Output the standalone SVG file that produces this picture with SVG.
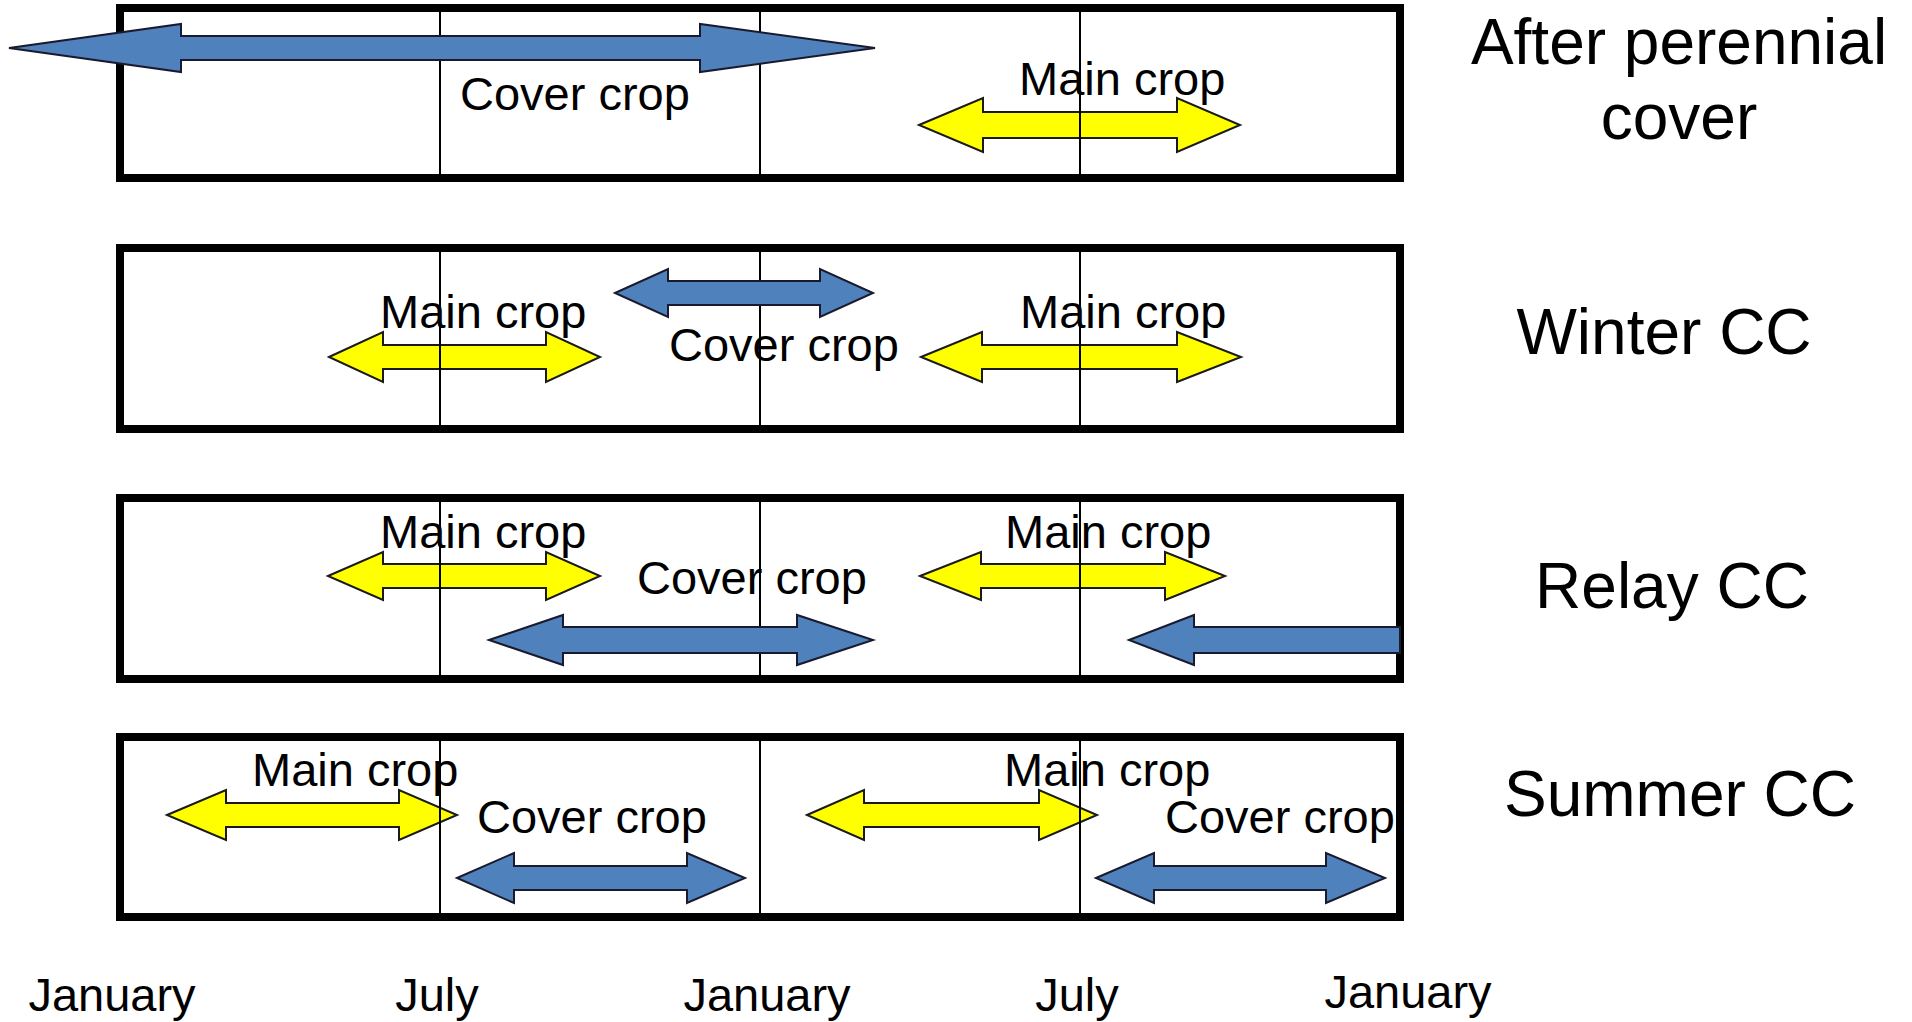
<svg xmlns="http://www.w3.org/2000/svg" width="1912" height="1022" viewBox="0 0 1912 1022">
<style>
.box{fill:#fff;stroke:#000;stroke-width:8}
.div{stroke:#000;stroke-width:2}
.blue{fill:#4F81BD;stroke:#1a1a2e;stroke-width:2;stroke-linejoin:miter}
.yel{fill:#FFFF00;stroke:#1a1a1a;stroke-width:2;stroke-linejoin:miter}
.lbl{font-family:"Liberation Sans",Arial,sans-serif;font-size:47px;fill:#000}
.row{font-family:"Liberation Sans",Arial,sans-serif;font-size:64px;fill:#000;text-anchor:middle}
.mon{font-family:"Liberation Sans",Arial,sans-serif;font-size:47px;fill:#000;text-anchor:middle}
</style>
<rect width="1912" height="1022" fill="#fff"/>

<g id="row-after-perennial">
  <rect class="box" x="120" y="8" width="1280" height="170"/>
  <polygon class="yel" points="919,125 983,98 983,112 1177,112 1177,98 1240,125 1177,152 1177,138 983,138 983,152"/>
  <line class="div" x1="440" y1="12" x2="440" y2="174"/>
  <line class="div" x1="760" y1="12" x2="760" y2="174"/>
  <line class="div" x1="1080" y1="12" x2="1080" y2="174"/>
  <polygon class="blue" points="9,48 181,24 181,36 700,36 700,24 875,48 700,72 700,60 181,60 181,72"/>
  <text class="lbl" x="460" y="110">Cover crop</text>
  <text class="lbl" x="1019" y="95">Main crop</text>
  <text class="row" x="1679" y="64">After perennial</text>
  <text class="row" x="1679" y="139">cover</text>
</g>

<g id="row-winter-cc">
  <rect class="box" x="120" y="248" width="1280" height="181"/>
  <polygon class="yel" points="329,357 383,332 383,345 546,345 546,332 600,357 546,382 546,369 383,369 383,382"/>
  <polygon class="yel" points="921,357 982,332 982,345 1177,345 1177,332 1241,357 1177,382 1177,369 982,369 982,382"/>
  <line class="div" x1="440" y1="252" x2="440" y2="425"/>
  <line class="div" x1="760" y1="252" x2="760" y2="425"/>
  <line class="div" x1="1080" y1="252" x2="1080" y2="425"/>
  <polygon class="blue" points="615,293 668,269 668,281 820,281 820,269 873,293 820,317 820,305 668,305 668,317"/>
  <text class="lbl" x="380" y="328">Main crop</text>
  <text class="lbl" x="669" y="361">Cover crop</text>
  <text class="lbl" x="1020" y="328">Main crop</text>
  <text class="row" x="1664" y="354">Winter CC</text>
</g>

<g id="row-relay-cc">
  <rect class="box" x="120" y="498" width="1280" height="181"/>
  <polygon class="yel" points="328,576 383,552 383,564 546,564 546,552 600,576 546,600 546,588 383,588 383,600"/>
  <polygon class="yel" points="920,576 981,552 981,564 1165,564 1165,552 1225,576 1165,600 1165,588 981,588 981,600"/>
  <line class="div" x1="440" y1="502" x2="440" y2="675"/>
  <line class="div" x1="760" y1="502" x2="760" y2="675"/>
  <line class="div" x1="1080" y1="502" x2="1080" y2="675"/>
  <polygon class="blue" points="489,640 563,615 563,627 797,627 797,615 873,640 797,665 797,653 563,653 563,665"/>
  <polygon class="blue" points="1129,640 1194,615 1194,627 1400,627 1400,653 1194,653 1194,665"/>
  <text class="lbl" x="380" y="548">Main crop</text>
  <text class="lbl" x="637" y="594">Cover crop</text>
  <text class="lbl" x="1005" y="548">Main crop</text>
  <text class="row" x="1672" y="608">Relay CC</text>
</g>

<g id="row-summer-cc">
  <rect class="box" x="120" y="737" width="1280" height="180"/>
  <polygon class="yel" points="167,815 226,790 226,803 399,803 399,790 457,815 399,840 399,827 226,827 226,840"/>
  <polygon class="yel" points="807,815 864,790 864,803 1039,803 1039,790 1097,815 1039,840 1039,827 864,827 864,840"/>
  <line class="div" x1="440" y1="741" x2="440" y2="913"/>
  <line class="div" x1="760" y1="741" x2="760" y2="913"/>
  <line class="div" x1="1080" y1="741" x2="1080" y2="913"/>
  <polygon class="blue" points="457,878 514,853 514,866 687,866 687,853 745,878 687,903 687,890 514,890 514,903"/>
  <polygon class="blue" points="1096,878 1154,853 1154,866 1326,866 1326,853 1385,878 1326,903 1326,890 1154,890 1154,903"/>
  <text class="lbl" x="252" y="786">Main crop</text>
  <text class="lbl" x="477" y="833">Cover crop</text>
  <text class="lbl" x="1004" y="786">Main crop</text>
  <text class="lbl" x="1165" y="833">Cover crop</text>
  <text class="row" x="1680" y="816">Summer CC</text>
</g>

<g id="axis-months">
  <text class="mon" x="112" y="1011">January</text>
  <text class="mon" x="437" y="1011">July</text>
  <text class="mon" x="767" y="1011">January</text>
  <text class="mon" x="1077" y="1011">July</text>
  <text class="mon" x="1408" y="1008">January</text>
</g>
</svg>
